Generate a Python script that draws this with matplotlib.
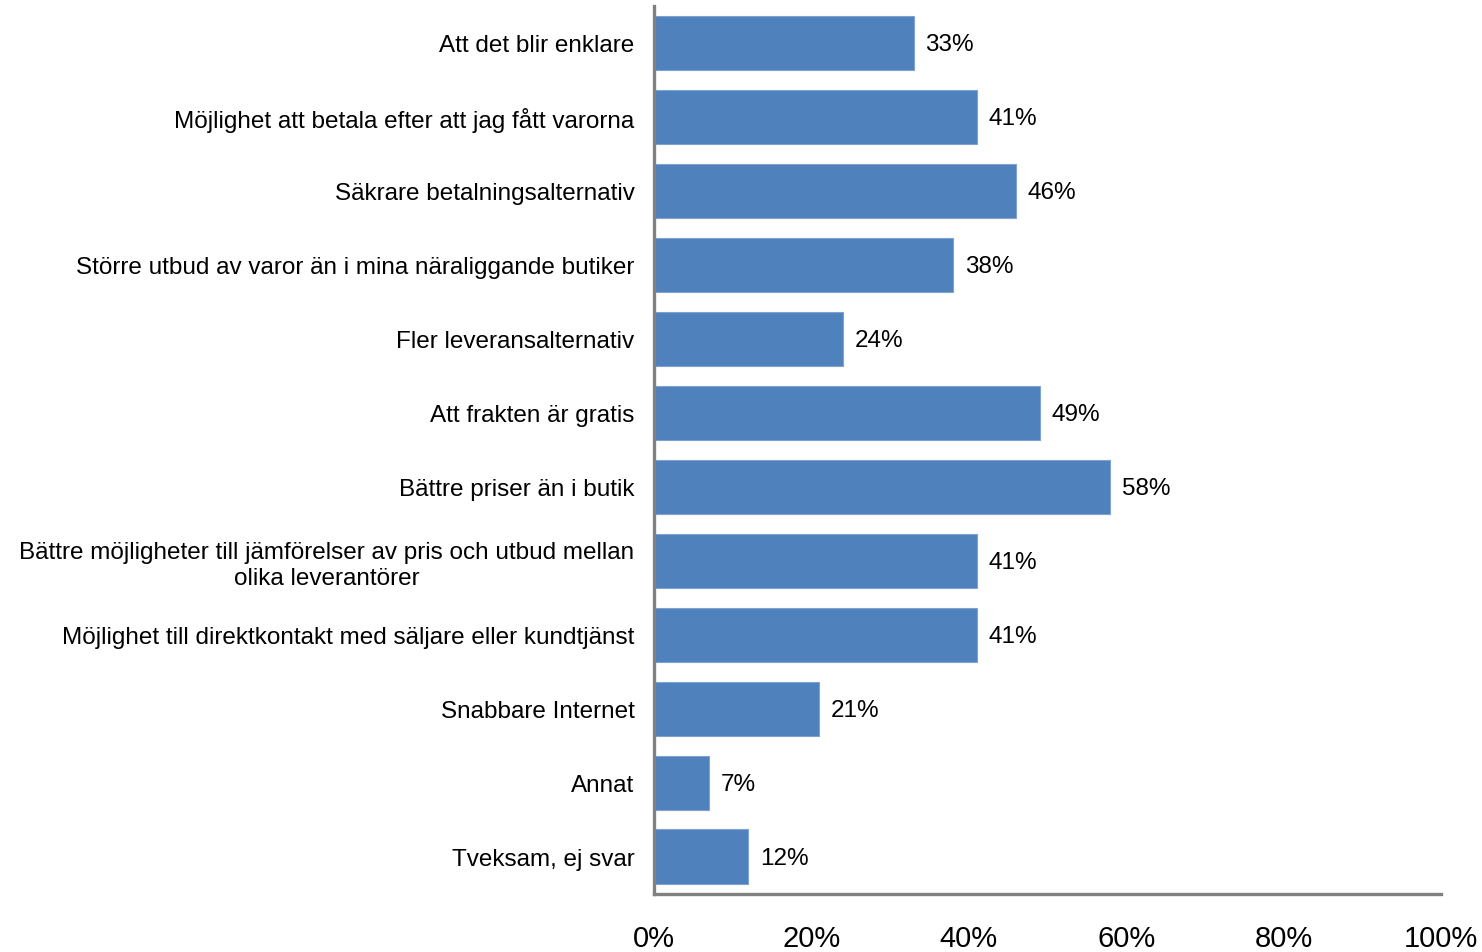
import matplotlib.pyplot as plt
from matplotlib.ticker import FuncFormatter

plt.rcParams['font.family'] = ['Liberation Sans', 'DejaVu Sans']

categories = [
    "Att det blir enklare",
    "Möjlighet att betala efter att jag fått varorna",
    "Säkrare betalningsalternativ",
    "Större utbud av varor än i mina näraliggande butiker",
    "Fler leveransalternativ",
    "Att frakten är gratis",
    "Bättre priser än i butik",
    "Bättre möjligheter till jämförelser av pris och utbud mellan\nolika leverantörer",
    "Möjlighet till direktkontakt med säljare eller kundtjänst",
    "Snabbare Internet",
    "Annat",
    "Tveksam, ej svar",
]
values = [33, 41, 46, 38, 24, 49, 58, 41, 41, 21, 7, 12]
xticks = [0, 20, 40, 60, 80, 100]

fig = plt.figure(figsize=(14.82, 9.53), dpi=100)
ax = fig.add_axes([0.4413, 0.061, 0.5310, 0.9317])

pos = list(range(len(categories)))
ax.barh(pos, values, height=0.74, color='#4F81BD', edgecolor='#7FA3D1', linewidth=0.8)
for p, v in zip(pos, values):
    ax.text(v + 1.5, p + 0.02, f"{v}%", va='center', ha='left', fontsize=17.5, color='black')

ax.set_ylim(len(categories) - 0.5, -0.5)
ax.set_xlim(0, 100)
ax.set_yticks(pos)
ax.set_yticklabels(categories, fontsize=17.5, multialignment='center')
ax.set_xticks(xticks)
ax.xaxis.set_major_formatter(FuncFormatter(lambda x, _: f"{x:.0f}%"))
ax.tick_params(axis='x', labelsize=21, length=0, pad=22)
ax.tick_params(axis='y', length=0, pad=14)

for s in ['top', 'right']:
    ax.spines[s].set_visible(False)
for s in ['left', 'bottom']:
    ax.spines[s].set_color('#808080')
    ax.spines[s].set_linewidth(2.4)

fig.savefig('out.png', dpi=100)
